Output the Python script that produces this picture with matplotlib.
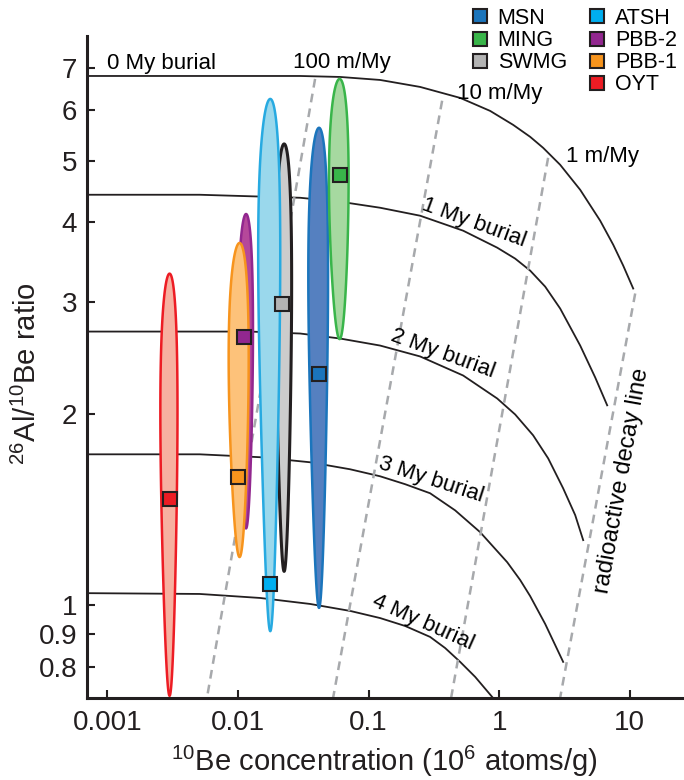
import numpy as np
import matplotlib.pyplot as plt
from matplotlib.lines import Line2D
from matplotlib.ticker import NullLocator

plt.rcParams['font.family'] = ['Liberation Sans', 'DejaVu Sans']
plt.rcParams['mathtext.default'] = 'regular'

INK = '#231f20'

# burial isochrons: 10Be (10^6 atoms/g) vs 26Al/10Be
b0_x = [0.0007, 0.0051, 0.030, 0.0606, 0.1227, 0.2484, 0.5029, 0.8535, 1.280, 1.727,
        2.172, 2.932, 4.172, 5.934, 7.465, 8.90, 10.62]
b0_y = [6.792, 6.792, 6.792, 6.768, 6.695, 6.528, 6.274, 5.985, 5.690, 5.449,
        5.236, 4.924, 4.498, 4.022, 3.687, 3.419, 3.146]
b1_x = [0.0007, 0.0051, 0.030, 0.0606, 0.1227, 0.2484, 0.5302, 0.9654, 1.326, 1.727,
        2.250, 2.932, 4.172, 5.435, 6.714]
b1_y = [4.418, 4.418, 4.370, 4.308, 4.215, 4.095, 3.879, 3.648, 3.506, 3.357,
        3.168, 2.926, 2.559, 2.280, 2.061]
b2_x = [0.0007, 0.0124, 0.030, 0.0606, 0.1227, 0.2484, 0.5302, 0.9654, 1.326, 1.820,
        2.372, 3.090, 3.820, 4.398]
b2_y = [2.692, 2.692, 2.673, 2.625, 2.559, 2.460, 2.296, 2.113, 1.994, 1.849,
        1.701, 1.526, 1.385, 1.265]
b3_x = [0.0007, 0.0051, 0.0148, 0.0357, 0.0723, 0.1227, 0.1907, 0.2962, 0.4604, 0.7153,
        1.152, 1.448, 1.727, 2.250, 3.090]
b3_y = [1.726, 1.726, 1.708, 1.677, 1.635, 1.594, 1.549, 1.499, 1.409, 1.302,
        1.168, 1.095, 1.033, 0.934, 0.814]
b4_x = [0.0007, 0.0051, 0.0148, 0.0357, 0.0723, 0.1227, 0.1907, 0.2962, 0.3857, 0.5029,
        0.6552, 0.8841]
b4_y = [1.044, 1.041, 1.026, 1.004, 0.979, 0.954, 0.927, 0.891, 0.856, 0.814,
        0.771, 0.717]

# erosion-rate / decay lines (dashed)
e100_x = [0.039, 0.0058]
e100_y = [6.72, 0.715]
e10_x = [0.366, 0.0536]
e10_y = [6.21, 0.715]
e1_x = [2.37, 0.429]
e1_y = [5.05, 0.715]
decay_x = [11.0, 2.93]
decay_y = [3.09, 0.715]

# samples (drawing order)
names = ['OYT', 'PBB-2', 'PBB-1', 'SWMG', 'ATSH', 'MSN', 'MING']
ell_cx = [0.0030, 0.01155, 0.0103, 0.0226, 0.0177, 0.0418, 0.0601]
ell_wx = [0.00045, 0.0015, 0.0018, 0.0032, 0.0034, 0.0072, 0.0103]
ell_cy = [2.02, 2.72, 2.45, 3.22, 3.58, 3.31, 4.67]
ell_hy = [1.30, 1.40, 1.26, 2.09, 2.67, 2.32, 2.05]
mark_x = [0.0030, 0.0112, 0.0101, 0.0218, 0.0177, 0.0418, 0.0606]
mark_y = [1.47, 2.64, 1.59, 2.97, 1.08, 2.31, 4.75]

fill_c = ['#f7b0a0', '#b5489a', '#fdc27a', '#cccccc', '#9ad8ec', '#5580c0', '#a6d9a0']
edge_c = ['#ed1c24', '#92278f', '#f7941d', INK, '#27aae1', '#1b75bc', '#39b54a']
mark_c = ['#ed1c24', '#92278f', '#f7941d', '#b3b3b3', '#00aeef', '#1b75bc', '#39b54a']

legend_col1 = ['MSN', 'MING', 'SWMG']
legend_col2 = ['ATSH', 'PBB-2', 'PBB-1', 'OYT']

xticks = [0.001, 0.01, 0.1, 1, 10]
xtick_labels = ['0.001', '0.01', '0.1', '1', '10']
yticks = [0.8, 0.9, 1, 2, 3, 4, 5, 6, 7]
ytick_labels = ['0.8', '0.9', '1', '2', '3', '4', '5', '6', '7']

fig = plt.figure(figsize=(6.84, 7.80), dpi=100)
ax = fig.add_axes([87 / 684, 1 - 697.7 / 780, 1 - 87 / 684, (697.7 - 36) / 780])
ax.set_xscale('log')
ax.set_yscale('log')
ax.set_xlim(0.0007, 26)
ax.set_ylim(0.715, 7.85)

for bx, by in [(b0_x, b0_y), (b1_x, b1_y), (b2_x, b2_y), (b3_x, b3_y), (b4_x, b4_y)]:
    ax.plot(bx, by, color=INK, lw=1.3, zorder=1, solid_joinstyle='round')

for ex, ey in [(e100_x, e100_y), (e10_x, e10_y), (e1_x, e1_y), (decay_x, decay_y)]:
    ax.plot(ex, ey, color='#a7a9ac', lw=1.8, ls=(0, (3.5, 2.5)), zorder=1)

t = np.linspace(0, 2 * np.pi, 600)
for i in range(len(names)):
    xs = ell_cx[i] + ell_wx[i] * np.cos(t)
    ys = ell_cy[i] + ell_hy[i] * np.sin(t)
    lw = 2.2 if names[i] == 'SWMG' else 1.8
    ax.fill(xs, ys, facecolor=fill_c[i], edgecolor=edge_c[i], lw=lw, zorder=2 + i)

for i in range(len(names)):
    ax.plot(mark_x[i], mark_y[i], 's', ms=10, mfc=mark_c[i], mec=INK, mew=1.5, zorder=20)

# annotations
ax.text(0.001, 6.97, '0 My burial', fontsize=16, ha='left', va='baseline')
ax.text(0.0265, 6.99, '100 m/My', fontsize=16, ha='left', va='baseline')
ax.text(0.477, 6.24, '10 m/My', fontsize=16, ha='left', va='baseline')
ax.text(3.26, 4.98, '1 m/My', fontsize=16, ha='left', va='baseline')
ax.text(0.644, 3.99, '1 My burial', fontsize=16, ha='center', va='center',
        rotation=-20, rotation_mode='anchor')
ax.text(0.3726, 2.487, '2 My burial', fontsize=16, ha='center', va='center',
        rotation=-20, rotation_mode='anchor')
ax.text(0.302, 1.571, '3 My burial', fontsize=16, ha='center', va='center',
        rotation=-18, rotation_mode='anchor')
ax.text(0.2618, 0.940, '4 My burial', fontsize=16, ha='center', va='center',
        rotation=-24, rotation_mode='anchor')
ax.text(8.74, 1.571, 'radioactive decay line', fontsize=17, ha='center', va='center',
        rotation=80, rotation_mode='anchor')

ax.set_xticks(xticks)
ax.set_xticklabels(xtick_labels)
ax.set_yticks(yticks)
ax.set_yticklabels(ytick_labels)
ax.xaxis.set_minor_locator(NullLocator())
ax.yaxis.set_minor_locator(NullLocator())
ax.tick_params(direction='in', length=6, width=1.5, color=INK, labelsize=20, labelcolor=INK)
ax.tick_params(axis='x', pad=9)
ax.tick_params(axis='y', pad=7)

for s in ['top', 'right']:
    ax.spines[s].set_visible(False)
for s in ['left', 'bottom']:
    ax.spines[s].set_linewidth(2.2)
    ax.spines[s].set_color(INK)

ax.set_xlabel('$^{10}$Be concentration (10$^{6}$ atoms/g)', fontsize=21, color=INK)
ax.set_ylabel('$^{26}$Al/$^{10}$Be ratio', fontsize=21, color=INK)
ax.yaxis.set_label_coords(-0.075, 0.49)
ax.xaxis.set_label_coords(0.4975, -0.07)

def legend_handles(labels):
    hs = []
    for lab in labels:
        i = names.index(lab)
        hs.append(Line2D([], [], ls='none', marker='s', ms=10, mfc=mark_c[i], mec=INK, mew=1.5, label=lab))
    return hs

for labels, x0 in [(legend_col1, 472.2), (legend_col2, 589.7)]:
    fig.legend(handles=legend_handles(labels), loc='upper left',
               bbox_to_anchor=(x0 / 684, 1 - 8 / 780), frameon=False,
               fontsize=15.5, borderpad=0, borderaxespad=0, handlelength=0.7,
               handletextpad=0.48, labelspacing=0.05)

fig.savefig('out.png', dpi=100)
